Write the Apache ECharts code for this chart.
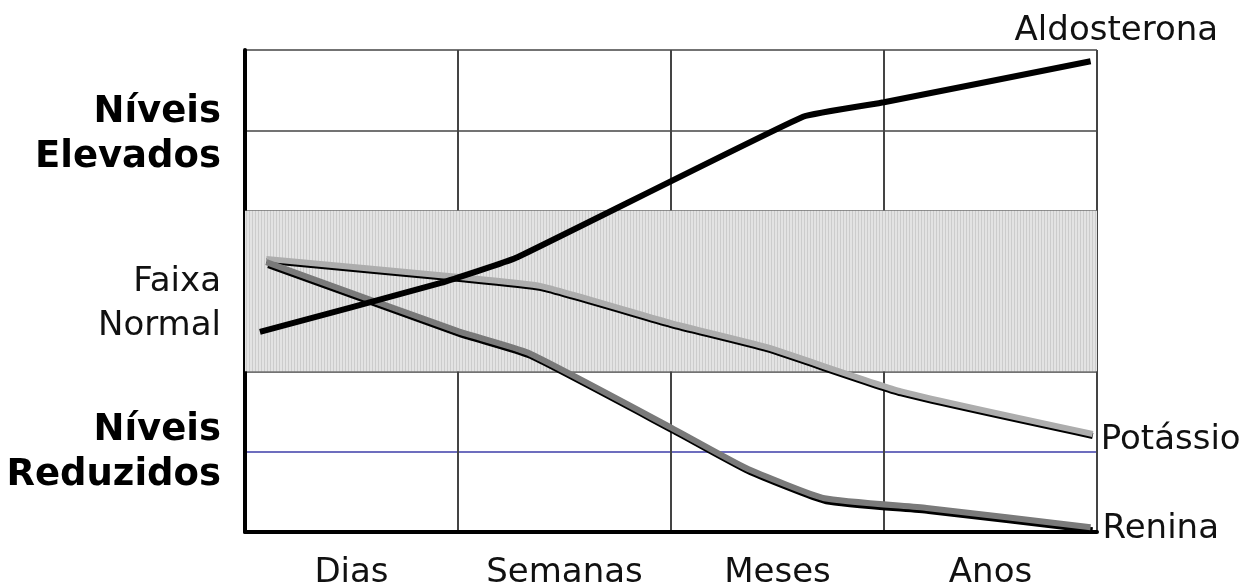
<!DOCTYPE html>
<html>
<head>
<meta charset="utf-8">
<script src="https://cdn.jsdelivr.net/npm/echarts@6/dist/echarts.min.js"></script>
<style>
  html, body { margin: 0; padding: 0; background: #fff; }
  #chart { width: 1243px; height: 588px; }
</style>
</head>
<body>
<div id="chart"></div>
<script>
// periodos no eixo x (0..4, um por coluna)
var periods = ['Dias', 'Semanas', 'Meses', 'Anos'];
var levelLabels = ['Níveis\nReduzidos', 'Faixa\nNormal', 'Níveis\nElevados'];

// curvas (x em colunas, y em "níveis" 0..6)
var aldoX = [0.07, 0.92, 1.27, 2.62, 3.0, 3.97];
var aldoY = [2.49, 3.1, 3.41, 5.17, 5.35, 5.86];
var potX = [0.10, 1.02, 1.39, 2.0, 2.45, 3.08, 3.98];
var potY = [3.40, 3.17, 3.06, 2.60, 2.30, 1.75, 1.22];
var renX = [0.10, 1.0, 1.33, 2.0, 2.35, 2.72, 3.2, 3.97];
var renY = [3.36, 2.50, 2.23, 1.30, 0.80, 0.42, 0.30, 0.06];

function pairs(xs, ys) {
    var out = [];
    for (var i = 0; i < xs.length; i++) out.push([xs[i], ys[i]]);
    return out;
}

// textura da faixa normal (riscas verticais finas)
var hatch = document.createElement('canvas');
hatch.width = 3; hatch.height = 4;
var hctx = hatch.getContext('2d');
hctx.fillStyle = '#e3e3e3';
hctx.fillRect(0, 0, 3, 4);
hctx.fillStyle = '#cccccc';
hctx.fillRect(0, 0, 1, 4);

var font = 'DejaVu Sans, Verdana, sans-serif';
var chart = echarts.init(document.getElementById('chart'));

var option = {
    animation: false,
    grid: { left: 245, right: 146, top: 50, bottom: 56, outerBoundsMode: 'none', containLabel: false },
    xAxis: [
        {
            type: 'value', min: 0, max: 4, interval: 1,
            axisLine: { show: true, lineStyle: { color: '#000', width: 4 } },
            axisTick: { show: false },
            axisLabel: { show: false },
            splitLine: { show: true, lineStyle: { color: '#444', width: 2 } }
        },
        {
            type: 'category', position: 'bottom', data: periods,
            axisLine: { show: false }, axisTick: { show: false },
            splitLine: { show: false },
            axisLabel: { margin: 24, fontSize: 34, color: '#111', fontFamily: font }
        }
    ],
    yAxis: {
        type: 'value', min: 0, max: 6, interval: 1,
        axisLine: { show: true, lineStyle: { color: '#000', width: 4 } },
        axisTick: { show: false },
        splitLine: {
            show: true,
            lineStyle: { color: ['#444', '#3c3ca8', '#444', '#444', '#444', '#444', '#444'], width: 1.5 }
        },
        axisLabel: {
            customValues: [0.99, 2.83, 4.94],
            margin: 24,
            formatter: function (v) {
                var i = v < 2 ? 0 : (v < 4 ? 1 : 2);
                var parts = levelLabels[i].split('\n');
                var tag = i === 1 ? 'n' : 'b';
                return '{' + tag + '|' + parts[0] + '}\n{' + tag + '|' + parts[1] + '}';
            },
            rich: {
                b: { fontSize: 37, fontWeight: 'bold', color: '#000', fontFamily: font, lineHeight: 45, align: 'right' },
                n: { fontSize: 34, color: '#111', fontFamily: font, lineHeight: 44, align: 'right' }
            }
        }
    },
    series: [
        {
            name: 'faixa', type: 'line', data: [], silent: true,
            markArea: {
                silent: true,
                itemStyle: { color: { image: hatch, repeat: 'repeat' } },
                data: [[{ yAxis: 2 }, { yAxis: 4 }]]
            },
            z: 1
        },
        {
            name: 'Potássio', type: 'line', data: pairs(potX, potY),
            symbol: 'none', smooth: 0.15,
            lineStyle: { color: '#adadad', width: 6, shadowColor: '#000', shadowBlur: 0, shadowOffsetY: 2 },
            endLabel: { show: true, formatter: '{a}', fontSize: 34, color: '#111', fontFamily: font, distance: 8, offset: [0, 6] },
            z: 3
        },
        {
            name: 'Renina', type: 'line', data: pairs(renX, renY),
            symbol: 'none', smooth: 0.15,
            lineStyle: { color: '#7a7a7a', width: 6, shadowColor: '#000', shadowBlur: 0, shadowOffsetX: 2, shadowOffsetY: 3 },
            endLabel: { show: true, formatter: '{a}', fontSize: 34, color: '#111', fontFamily: font, distance: 12, offset: [0, 2] },
            z: 3
        },
        {
            name: 'Aldosterona', type: 'line', data: pairs(aldoX, aldoY),
            symbol: 'none', smooth: 0.1,
            lineStyle: { color: '#000', width: 6 },
            endLabel: { show: true, formatter: '{a}', fontSize: 34, color: '#111', fontFamily: font, offset: [-84, -30] },
            z: 4
        }
    ]
};
chart.setOption(option);
</script>
</body>
</html>
